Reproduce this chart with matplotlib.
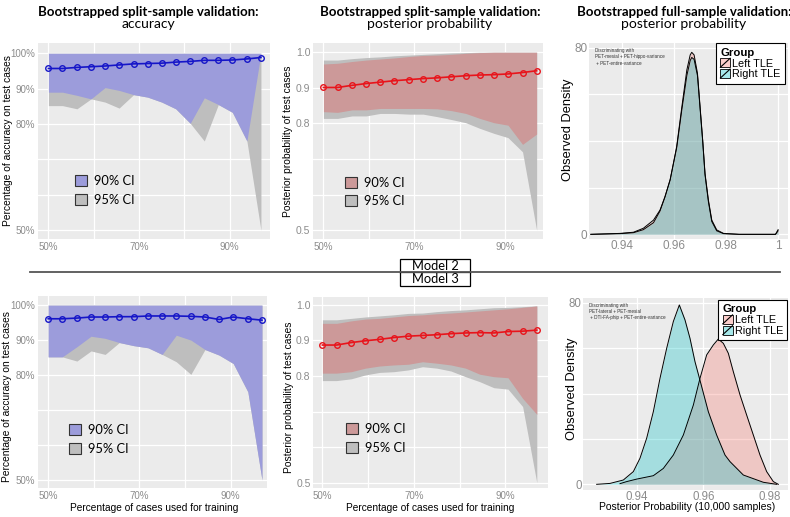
import matplotlib
matplotlib.use("Agg")
import matplotlib.pyplot as plt
from matplotlib.patches import Patch, Rectangle
from matplotlib.lines import Line2D
from matplotlib.legend_handler import HandlerPatch
from matplotlib.colors import to_rgba

plt.rcParams['font.family'] = ['Liberation Sans', 'DejaVu Sans']

# training fraction (16..31 of 32 cases)
train_pct = [50.0, 53.1, 56.3, 59.4, 62.5, 65.6, 68.8, 71.9, 75.0, 78.1, 81.3, 84.4, 87.5, 90.6, 93.8, 96.9]

# Model 2 - accuracy (%)
m2_acc_mean = [95.7, 95.7, 96.0, 96.2, 96.4, 96.7, 97.0, 97.1, 97.2, 97.5, 97.7, 98.0, 98.0, 98.1, 98.4, 98.8]
m2_acc_lo90 = [89.0, 89.0, 88.1, 87.1, 90.3, 89.5, 88.3, 87.6, 86.2, 84.3, 80.2, 87.4, 85.5, 83.3, 75.2, 100.0]
m2_acc_lo95 = [85.2, 85.2, 84.3, 87.1, 86.2, 84.5, 88.3, 87.6, 86.2, 84.3, 80.2, 75.2, 85.5, 83.3, 75.2, 50.0]
m2_acc_hi = [100.0] * 16

# Model 2 - posterior probability
m2_pp_mean = [0.901, 0.901, 0.907, 0.912, 0.916, 0.920, 0.923, 0.926, 0.928, 0.931, 0.934, 0.936, 0.937, 0.939, 0.943, 0.948]
m2_pp_hi90 = [0.967, 0.969, 0.974, 0.978, 0.981, 0.984, 0.988, 0.991, 0.992, 0.994, 0.997, 0.999, 1.0, 1.0, 1.0, 1.0]
m2_pp_hi95 = [0.978, 0.978, 0.982, 0.985, 0.987, 0.990, 0.992, 0.994, 0.996, 0.998, 0.999, 1.0, 1.0, 1.0, 1.0, 1.0]
m2_pp_lo90 = [0.833, 0.831, 0.838, 0.838, 0.842, 0.842, 0.842, 0.842, 0.841, 0.836, 0.828, 0.814, 0.802, 0.795, 0.741, 0.770]
m2_pp_lo95 = [0.814, 0.814, 0.821, 0.821, 0.828, 0.828, 0.826, 0.826, 0.819, 0.811, 0.802, 0.786, 0.772, 0.760, 0.720, 0.500]

# Model 3 - accuracy (%)
m3_acc_mean = [96.1, 96.1, 96.3, 96.6, 96.6, 96.7, 96.7, 96.9, 96.9, 96.9, 96.8, 96.6, 95.9, 96.6, 96.1, 95.7]
m3_acc_lo90 = [85.2, 85.2, 88.1, 91.1, 90.5, 89.3, 88.4, 87.8, 85.9, 91.4, 90.0, 87.3, 85.7, 83.3, 75.2, 50.0]
m3_acc_lo95 = [85.2, 85.2, 84.0, 86.9, 85.9, 89.3, 88.4, 87.8, 85.9, 83.8, 80.2, 87.3, 85.7, 83.3, 75.2, 50.0]
m3_acc_hi = [100.0] * 16

# Model 3 - posterior probability
m3_pp_mean = [0.887, 0.887, 0.894, 0.899, 0.903, 0.908, 0.912, 0.914, 0.916, 0.919, 0.921, 0.922, 0.921, 0.925, 0.926, 0.929]
m3_pp_hi90 = [0.948, 0.948, 0.955, 0.960, 0.962, 0.966, 0.970, 0.972, 0.975, 0.977, 0.980, 0.983, 0.986, 0.989, 0.993, 0.997]
m3_pp_hi95 = [0.958, 0.958, 0.962, 0.966, 0.969, 0.972, 0.976, 0.977, 0.981, 0.984, 0.986, 0.989, 0.992, 0.993, 0.995, 0.997]
m3_pp_lo90 = [0.808, 0.808, 0.812, 0.822, 0.828, 0.831, 0.833, 0.840, 0.836, 0.831, 0.822, 0.805, 0.798, 0.795, 0.737, 0.692]
m3_pp_lo95 = [0.787, 0.787, 0.792, 0.803, 0.810, 0.812, 0.817, 0.826, 0.822, 0.814, 0.798, 0.784, 0.767, 0.763, 0.714, 0.500]

# full-sample densities, model 2
m2_dens_x = [0.9280, 0.9392, 0.9444, 0.9482, 0.9521, 0.9546, 0.9565, 0.9585, 0.9610, 0.9630, 0.9649, 0.9662,
             0.9668, 0.9677, 0.9690, 0.9700, 0.9710, 0.9719, 0.9732, 0.9745, 0.9764, 0.9790, 0.9850, 0.9990, 1.0000]
m2_left_y = [0.0, 0.4, 0.9, 2.6, 6.1, 10.4, 16.1, 23.3, 37.6, 54.7, 70.4, 76.9,
             78.0, 76.9, 69.0, 54.7, 40.4, 26.1, 14.7, 6.1, 1.9, 0.4, 0.0, 0.0, 2.0]
m2_right_y = [0.0, 0.3, 0.7, 2.0, 5.0, 10.0, 16.0, 23.5, 37.0, 53.5, 68.0, 74.5,
              75.8, 75.0, 68.0, 54.0, 40.0, 25.5, 14.0, 5.5, 1.5, 0.3, 0.0, 0.0, 1.5]

# full-sample densities, model 3
m3_left_x = [0.9350, 0.9370, 0.9400, 0.9450, 0.9480, 0.9510, 0.9540, 0.9570, 0.9590, 0.9610, 0.9630,
             0.9645, 0.9660, 0.9675, 0.9690, 0.9710, 0.9730, 0.9750, 0.9770, 0.9790, 0.9810, 0.9825]
m3_left_y = [0.3, 1.2, 2.3, 3.8, 7.0, 12.9, 21.7, 34.9, 46.7, 57.0, 61.4,
             64.0, 62.1, 57.7, 49.6, 39.4, 30.5, 21.7, 12.9, 5.6, 1.2, 0.0]
m3_right_x = [0.9280, 0.9320, 0.9360, 0.9390, 0.9410, 0.9430, 0.9450, 0.9470, 0.9490, 0.9510, 0.9528,
              0.9545, 0.9560, 0.9575, 0.9590, 0.9615, 0.9640, 0.9665, 0.9680, 0.9720, 0.9780, 0.9820]
m3_right_y = [0.0, 0.4, 1.9, 5.6, 11.5, 20.3, 32.0, 46.7, 59.9, 71.7, 79.0,
              72.4, 64.3, 54.0, 45.8, 32.0, 21.7, 12.9, 10.0, 4.1, 0.9, 0.0]

BG = '#EBEBEB'
GRAY_BAND = '#BEBEBE'
TICK_COL = '#8C8C8C'
TITLE_FONT = ['Lato', 'DejaVu Sans']

W, H = 790, 517
fig = plt.figure(figsize=(W / 100, H / 100), dpi=100)


def add_axes(x0, y0, x1, y1):
    # pixel box -> figure fraction
    return fig.add_axes([x0 / W, 1 - y1 / H, (x1 - x0) / W, (y1 - y0) / H])


def style(ax):
    ax.set_facecolor(BG)
    for s in ax.spines.values():
        s.set_visible(False)
    ax.grid(True, which='major', color='white', lw=0.9)
    ax.set_axisbelow(True)
    ax.tick_params(length=0, labelcolor=TICK_COL, pad=2)


def ci_panel(ax, mean, lo90, hi90, lo95, hi95, band, line, pct_axis, xlim, ylim, ylabel, ylab_y, leg_xy):
    style(ax)
    ax.fill_between(train_pct, lo95, hi95, color=GRAY_BAND, lw=0, zorder=2)
    ax.fill_between(train_pct, lo90, hi90, color=band, lw=0, zorder=3)
    ax.plot(train_pct, mean, color=line, lw=1.2, marker='o', ms=4, mfc='none', mew=1, zorder=4)
    ax.set_xlim(*xlim)
    ax.set_ylim(*ylim)
    ax.set_xticks([50, 60, 70, 80, 90])
    ax.set_xticklabels(['50%', '', '70%', '', '90%'], fontsize=7)
    if pct_axis:
        ax.set_yticks([50, 60, 70, 80, 90, 100])
        ax.set_yticklabels(['50%', '', '', '80%', '90%', '100%'], fontsize=7)
    else:
        ax.set_yticks([0.5, 0.6, 0.7, 0.8, 0.9, 1.0])
        ax.set_yticklabels(['0.5', '', '', '0.8', '0.9', '1.0'], fontsize=7.5)
    ax.set_ylabel(ylabel, fontsize=7.4)
    ax.yaxis.set_label_coords(ylab_y[0], ylab_y[1])
    handles = [Patch(facecolor=band, edgecolor='#333333', lw=0.8, label='90% CI'),
               Patch(facecolor=GRAY_BAND, edgecolor='#333333', lw=0.8, label='95% CI')]
    ax.legend(handles=handles, loc='upper left', bbox_to_anchor=leg_xy, frameon=False,
              prop={'family': TITLE_FONT, 'size': 9.3}, handlelength=0.95, handleheight=0.95,
              handletextpad=0.5, labelspacing=0.5, borderpad=0, borderaxespad=0)


class SlashKey(HandlerPatch):
    def create_artists(self, legend, orig_handle, xdescent, ydescent, width, height, fontsize, trans):
        box = Rectangle((-xdescent, -ydescent), width, height, facecolor=orig_handle.get_facecolor(),
                        edgecolor='black', lw=0.6, transform=trans)
        slash = Line2D([-xdescent, -xdescent + width], [-ydescent, -ydescent + height],
                       color='black', lw=0.8, transform=trans)
        return [box, slash]


def density_panel(ax, lx, ly, rx, ry, xlim, ylim, xticks, xlabels, tick_fs, note, leg_xy, ylab_y):
    style(ax)
    ax.tick_params(pad=1)
    ax.fill_between(lx, ly, color='#F8766D', alpha=0.3, lw=0)
    ax.plot(lx, ly, color='black', lw=0.7)
    ax.fill_between(rx, ry, color='#00BFC4', alpha=0.3, lw=0)
    ax.plot(rx, ry, color='black', lw=0.7)
    ax.set_xlim(*xlim)
    ax.set_ylim(*ylim)
    ax.set_xticks(xticks)
    ax.set_xticklabels(xlabels, fontsize=tick_fs)
    ax.set_yticks([0, 20, 40, 60, 80])
    ax.set_yticklabels(['0', '', '', '', '80'], fontsize=tick_fs)
    ax.set_ylabel('Observed Density', fontsize=9.3)
    ax.yaxis.set_label_coords(ylab_y[0], ylab_y[1])
    ax.text(0.03, 0.975, note, transform=ax.transAxes, fontsize=3.3, va='top', ha='left',
            color='#333333', linespacing=1.35)
    handles = [Patch(facecolor=to_rgba('#F8766D', 0.35), label='Left TLE'),
               Patch(facecolor=to_rgba('#00BFC4', 0.35), label='Right TLE')]
    leg = ax.legend(handles=handles, title='Group', loc='upper right', bbox_to_anchor=leg_xy,
                    fontsize=7.8, title_fontproperties={'weight': 'bold', 'size': 8.2},
                    handler_map={Patch: SlashKey()}, handlelength=0.9, handleheight=0.9,
                    handletextpad=0.2, labelspacing=0.05, borderpad=0.4, borderaxespad=0,
                    fancybox=False, framealpha=1, edgecolor='black')
    leg._legend_box.align = 'left'
    leg.get_frame().set_linewidth(0.8)


# --- top row: Model 2
ax = add_axes(38, 43, 270, 239)
ci_panel(ax, m2_acc_mean, m2_acc_lo90, m2_acc_hi, m2_acc_lo95, m2_acc_hi, '#9C9CDB', '#1515C8', True,
         (47.7, 98.9), (47.5, 102.9), 'Percentage of accuracy on test cases', (-0.106, 0.5), (0.159, 0.325))

ax = add_axes(313, 43, 543, 239)
ci_panel(ax, m2_pp_mean, m2_pp_lo90, m2_pp_hi90, m2_pp_lo95, m2_pp_hi95, '#CC9999', '#E8141B', False,
         (47.7, 98.3), (0.475, 1.026), 'Posterior probability of test cases', (-0.085, 0.5), (0.139, 0.318))

ax = add_axes(589, 43, 788, 239)
density_panel(ax, m2_dens_x, m2_left_y, m2_dens_x, m2_right_y, (0.9273, 1.0038), (-2.0, 82.0),
              [0.94, 0.96, 0.98, 1.0], ['0.94', '0.96', '0.98', '1'], 8.5,
              'Discriminating with\nPET-mesial + PET-hippo-variance\n + PET-entire-variance',
              (0.985, 0.998), (-0.073, 0.556))

# --- bottom row: Model 3
ax = add_axes(37.7, 295.7, 267, 488.3)
ci_panel(ax, m3_acc_mean, m3_acc_lo90, m3_acc_hi, m3_acc_lo95, m3_acc_hi, '#9C9CDB', '#1515C8', True,
         (47.7, 98.0), (47.6, 102.7), 'Percentage of accuracy on test cases', (-0.110, 0.476), (0.136, 0.332))
ax.set_xlabel('Percentage of cases used for training', fontsize=7.3)
ax.xaxis.set_label_coords(0.51, -0.074)

ax = add_axes(313.3, 296.7, 548, 488.3)
ci_panel(ax, m3_pp_mean, m3_pp_lo90, m3_pp_hi90, m3_pp_lo95, m3_pp_hi95, '#CC9999', '#E8141B', False,
         (48.0, 99.35), (0.484, 1.023), 'Posterior probability of test cases', (-0.084, 0.476), (0.139, 0.339))
ax.set_xlabel('Percentage of cases used for training', fontsize=7.3)
ax.xaxis.set_label_coords(0.497, -0.076)

ax = add_axes(583, 297.7, 788, 490)
density_panel(ax, m3_left_x, m3_left_y, m3_right_x, m3_right_y, (0.9239, 0.9854), (-2.5, 82.2),
              [0.94, 0.96, 0.98], ['0.94', '0.96', '0.98'], 8.3,
              'Discriminating with\nPET-lateral + PET-mesial\n + DTI-FA-phip + PET-entire-variance',
              (0.997, 0.988), (-0.026, 0.529))
ax.tick_params(axis='x', pad=0.5)
ax.set_xlabel('Posterior Probability (10,000 samples)', fontsize=7.5)
ax.xaxis.set_label_coords(0.506, -0.063)

# --- column titles
titles = [(148, 'accuracy'), (430, 'posterior probability'), (684, 'posterior probability')]
heads = ['Bootstrapped split-sample validation:', 'Bootstrapped split-sample validation:',
         'Bootstrapped full-sample validation:']
for (cx, sub), head in zip(titles, heads):
    fig.text(cx / W, 1 - 16 / H, head, ha='center', va='baseline', fontsize=9.5,
             fontweight='bold', family=TITLE_FONT)
    fig.text(cx / W, 1 - 27.5 / H, sub, ha='center', va='baseline', fontsize=10, family=TITLE_FONT)

# --- divider between the models
fig.add_artist(Line2D([30 / W, 780 / W], [1 - 272 / H, 1 - 272 / H], color='#555555', lw=1.3))
for y0, lab in [(259, 'Model 2'), (272.3, 'Model 3')]:
    fig.add_artist(Rectangle((400 / W, 1 - (y0 + 13.7) / H), 70 / W, 13.7 / H,
                             facecolor='white', edgecolor='black', lw=0.9))
    fig.text(435 / W, 1 - (y0 + 6.9) / H, lab, ha='center', va='center', fontsize=9.3, family=TITLE_FONT)

fig.savefig('out.png', dpi=100)
